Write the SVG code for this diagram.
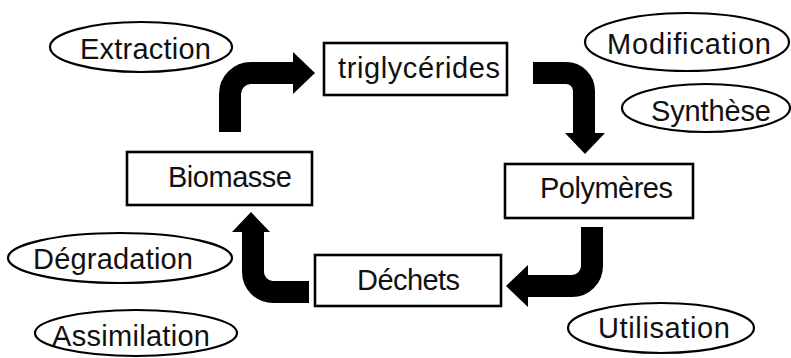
<svg xmlns="http://www.w3.org/2000/svg" width="791" height="358" viewBox="0 0 791 358">
<style>
.box{fill:#fff;stroke:#000;stroke-width:2.6}
.ell{fill:#fff;stroke:#000;stroke-width:2.2}
.t{font-family:"Liberation Sans",Arial,sans-serif;font-size:29px;fill:#111;lengthAdjust:spacing}
.shaft{fill:none;stroke:#000;stroke-width:22;stroke-linecap:butt}
.head{fill:#000}
</style>
<rect width="791" height="358" fill="#fff"/>
<g id="connectors">
<path class="shaft" d="M230,132 V94 A21,21 0 0 1 251,73 H295"/>
<polygon class="head" points="293,52 315,73 293,94"/>
<path class="shaft" d="M533,73 H566 A18,18 0 0 1 584,91 V134"/>
<polygon class="head" points="565,133 605,133 585,154"/>
<path class="shaft" d="M592,227 V266 A20,20 0 0 1 572,286 H526"/>
<polygon class="head" points="528,265 506,286 528,307"/>
<path class="shaft" d="M309,292 H273 A20,20 0 0 1 253,272 V230"/>
<polygon class="head" points="232,232 251,212 270,232"/>
</g>
<g id="n-triglycerides">
<rect class="box" x="324" y="43" width="183" height="52"/>
<text class="t" x="338" y="78" textLength="162" lengthAdjust="spacing">triglycérides</text>
</g>
<g id="n-biomasse">
<rect class="box" x="127" y="152" width="185" height="53"/>
<text class="t" x="168" y="187" textLength="124" lengthAdjust="spacing">Biomasse</text>
</g>
<g id="n-polymeres">
<rect class="box" x="505" y="164" width="188" height="54"/>
<text class="t" x="540" y="198" textLength="133" lengthAdjust="spacing">Polymères</text>
</g>
<g id="n-dechets">
<rect class="box" x="315" y="255" width="186" height="51"/>
<text class="t" x="357" y="290" textLength="103" lengthAdjust="spacing">Déchets</text>
</g>
<g id="e-extraction">
<ellipse class="ell" cx="141" cy="47" rx="91" ry="25"/>
<text class="t" x="80" y="59" textLength="131" lengthAdjust="spacing">Extraction</text>
</g>
<g id="e-modification">
<ellipse class="ell" cx="687" cy="42" rx="102" ry="29"/>
<text class="t" x="607" y="54" textLength="164" lengthAdjust="spacing">Modification</text>
</g>
<g id="e-synthese">
<ellipse class="ell" cx="706" cy="108" rx="84" ry="24"/>
<text class="t" x="651" y="121" textLength="120" lengthAdjust="spacing">Synthèse</text>
</g>
<g id="e-degradation">
<ellipse class="ell" cx="120" cy="258" rx="112" ry="25"/>
<text class="t" x="33" y="269" textLength="160" lengthAdjust="spacing">Dégradation</text>
</g>
<g id="e-assimilation">
<ellipse class="ell" cx="136" cy="333" rx="101" ry="23"/>
<text class="t" x="52" y="346" textLength="158" lengthAdjust="spacing">Assimilation</text>
</g>
<g id="e-utilisation">
<ellipse class="ell" cx="661" cy="328" rx="93" ry="25"/>
<text class="t" x="598" y="338" textLength="132" lengthAdjust="spacing">Utilisation</text>
</g>
</svg>
